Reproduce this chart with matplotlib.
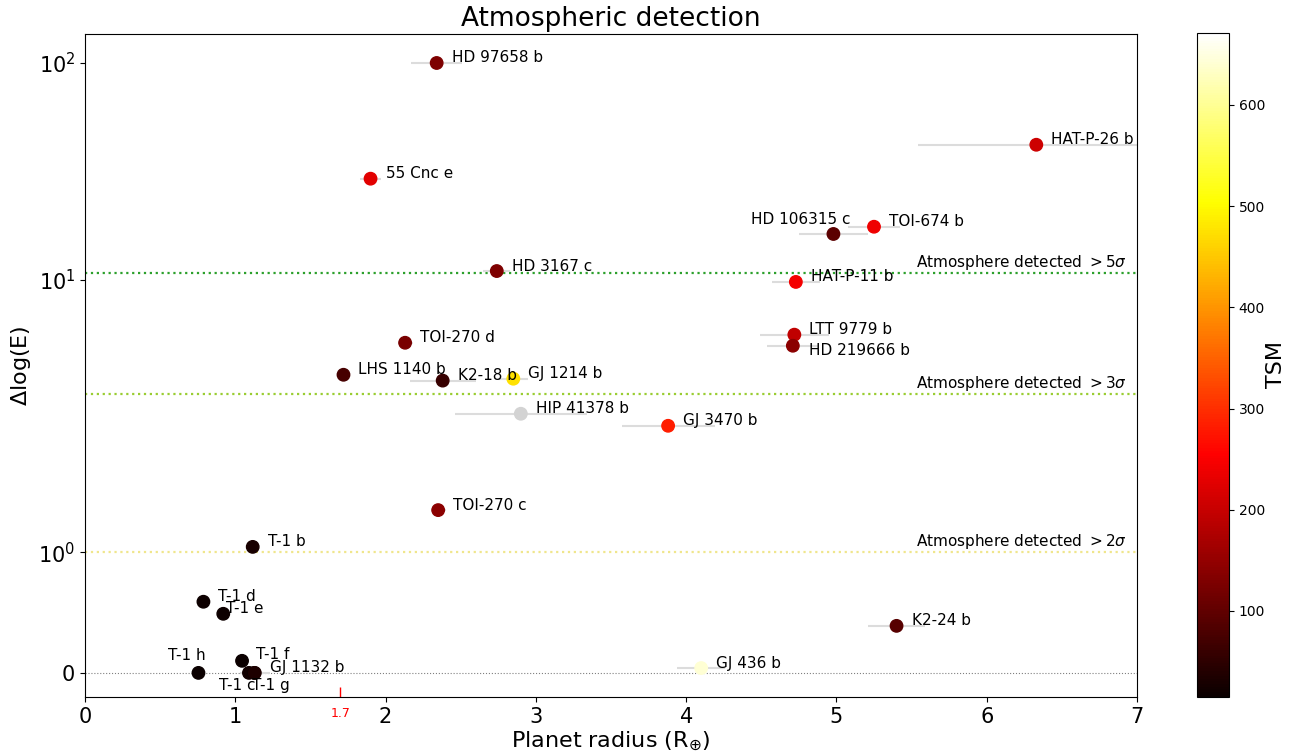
import numpy as np
import matplotlib
matplotlib.use('Agg')
import matplotlib.pyplot as plt
from matplotlib.colors import Normalize
from matplotlib.ticker import NullLocator

# Planetas, radio (R_tierra), error en radio, Delta log(E) y TSM
names = ['HD 97658 b', '55 Cnc e', 'HAT-P-26 b', 'HD 106315 c', 'TOI-674 b',
         'HD 3167 c', 'HAT-P-11 b', 'TOI-270 d', 'LTT 9779 b', 'HD 219666 b',
         'LHS 1140 b', 'K2-18 b', 'GJ 1214 b', 'HIP 41378 b', 'GJ 3470 b',
         'TOI-270 c', 'T-1 b', 'T-1 d', 'T-1 e', 'K2-24 b', 'T-1 f', 'T-1 h',
         'T-1 c', 'T-1 g', 'GJ 1132 b', 'GJ 436 b']
radius = [2.34, 1.90, 6.33, 4.98, 5.25, 2.74, 4.73, 2.13, 4.72, 4.71,
          1.72, 2.38, 2.85, 2.90, 3.88, 2.35, 1.116, 0.788, 0.920, 5.40,
          1.045, 0.755, 1.091, 1.126, 1.13, 4.10]
radius_err = [0.17, 0.07, 0.79, 0.23, 0.17, 0.09, 0.16, 0.05, 0.23, 0.17,
              0.03, 0.22, 0.10, 0.44, 0.31, 0.05, 0.013, 0.010, 0.012, 0.19,
              0.012, 0.014, 0.013, 0.013, 0.10, 0.16]
dlogE = [100.0, 29.3, 42.0, 16.3, 17.6, 11.0, 9.8, 5.14, 5.6, 4.98,
         3.66, 3.44, 3.51, 2.42, 2.13, 1.35, 1.045, 0.59, 0.49, 0.39,
         0.10, 0.0, 0.0, 0.0, 0.0, 0.04]
tsm = [130, 226, 207, 95, 240, 130, 244, 125, 193, 142,
       76, 61, 474, np.nan, 284, 142, 30, 20, 18, 90,
       17, 15, 25, 16, 35, 641]

# Umbrales de detección (Delta log E) y su significancia
thresholds = [10.8, 3.0, 1.0]
sigmas = [5, 3, 2]
thr_colors = ['tab:green', 'yellowgreen', 'khaki']

# Desplazamiento de etiquetas en píxeles (por defecto (15, 5))
label_offsets = {'HD 106315 c': (-82, 14), 'HD 219666 b': (16, -5),
                 'T-1 e': (3, 5), 'T-1 f': (14, 6), 'T-1 h': (-30, 17),
                 'T-1 c': (-30, -13), 'T-1 g': (-2, -13)}

fig = plt.figure(figsize=(12.93, 7.53), dpi=100)
ax = fig.add_axes([85/1293, 56/753, 1052/1293, 663/753])
cax = fig.add_axes([1197/1293, 56/753, 32/1293, 664/753])

cmap = plt.get_cmap('hot').copy()
cmap.set_bad('lightgray')
norm = Normalize(vmin=15, vmax=671)

ax.errorbar(radius, dlogE, xerr=radius_err, fmt='none', ecolor='#dcdcdc',
            elinewidth=1.5, zorder=1)
sc = ax.scatter(radius, dlogE, c=tsm, cmap=cmap, norm=norm, s=80, zorder=3,
                plotnonfinite=True)

for name, x, y in zip(names, radius, dlogE):
    dx, dy = label_offsets.get(name, (15, 5))
    ax.annotate(name, (x, y), xytext=(dx, dy), textcoords='offset pixels',
                ha='left', va='center', fontsize=11, zorder=4)

ax.axhline(0, color='gray', ls=':', lw=0.8, zorder=0)
for t, s, c in zip(thresholds, sigmas, thr_colors):
    ax.axhline(t, color=c, ls=':', lw=1.6, zorder=0)
    ax.annotate(r'Atmosphere detected $>%d\sigma$' % s, (6.93, t),
                xytext=(0, 1), textcoords='offset pixels',
                ha='right', va='bottom', fontsize=11)

ax.set_yscale('symlog', linthresh=2, linscale=1)
ax.set_ylim(-0.2, 136)
ax.set_xlim(0, 7)
ax.set_yticks([0, 1, 10, 100], ['0', r'$10^0$', r'$10^1$', r'$10^2$'])
ax.yaxis.set_minor_locator(NullLocator())
ax.tick_params(axis='both', which='major', labelsize=15)

# Marca del radio 1.7 R_tierra
ax.set_xticks([1.7], ['1.7'], minor=True)
ax.tick_params(axis='x', which='minor', colors='red', direction='in',
               length=7, width=1, labelsize=9, pad=7)

ax.set_xlabel(r'Planet radius (R$_{\oplus}$)', fontsize=16, labelpad=2)
ax.set_ylabel(r'$\Delta$log(E)', fontsize=16)
ax.set_title('Atmospheric detection', fontsize=19)

cb = fig.colorbar(sc, cax=cax)
cb.ax.tick_params(labelsize=10)
cb.set_label('TSM', fontsize=16, labelpad=1)

fig.savefig('out.png', dpi=100)
